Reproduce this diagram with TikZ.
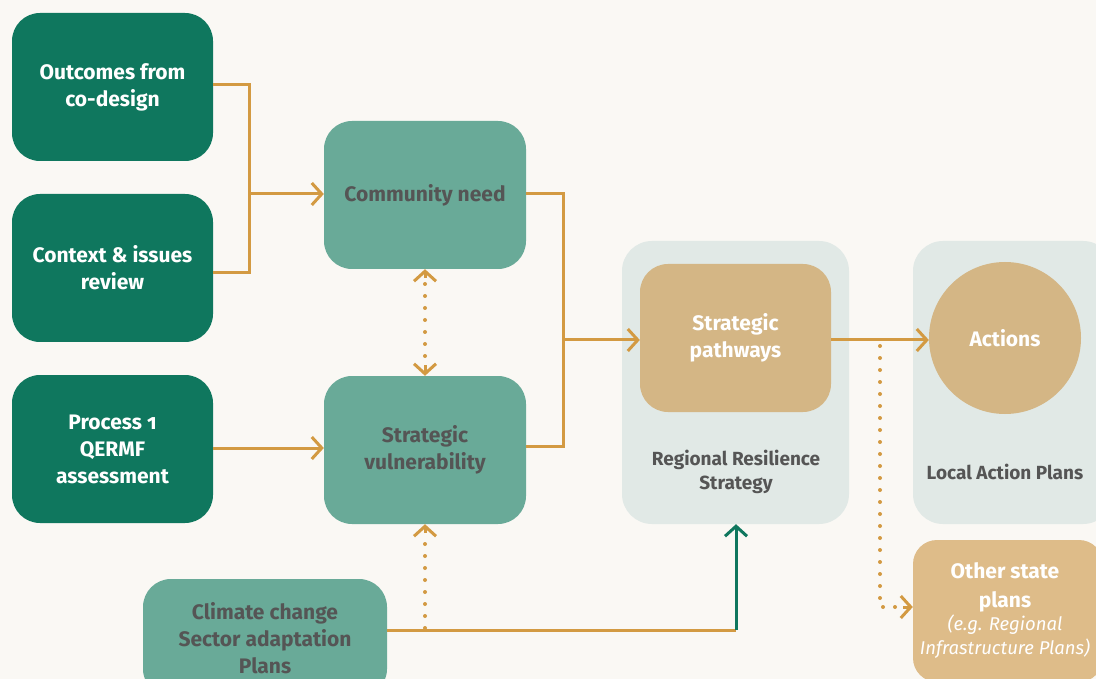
\documentclass[tikz,border=0pt]{standalone}
\usepackage{fontspec}
\setmainfont{Fira Sans}
\usetikzlibrary{arrows.meta,shapes.geometric}
\definecolor{bgc}{HTML}{FAF8F4}
\definecolor{dkgreen}{HTML}{0F775E}
\definecolor{mdgreen}{HTML}{69AA98}
\definecolor{panelc}{HTML}{E1E9E6}
\definecolor{goldc}{HTML}{D4B685}
\definecolor{otherc}{HTML}{DEBC89}
\definecolor{linec}{HTML}{D39A42}
\definecolor{txtgray}{HTML}{555555}
\tikzset{
  chev/.tip={Straight Barb[length=10pt,width=22pt]},
  conn/.style={draw=linec, line width=3pt},
  dotline/.style={draw=linec, line width=4pt, line cap=round, dash pattern=on 0pt off 12pt},
  dottip/.style={draw=linec, line width=3pt},
  box/.style={rounded corners=28pt, align=center, font=\fontsize{21}{27}\selectfont\bfseries, inner sep=0pt},
  darkbox/.style={box, fill=dkgreen, text=white, minimum width=201pt, minimum height=148pt},
  midbox/.style={box, fill=mdgreen, text=txtgray, minimum width=202pt, minimum height=148pt},
  panel/.style={fill=panelc, rounded corners=30pt, inner sep=0pt},
  paneltext/.style={align=center, text=txtgray, font=\fontsize{19}{24}\selectfont\bfseries},
}
\begin{document}
\begin{tikzpicture}[x=1pt,y=-1pt]
\useasboundingbox (0,0) rectangle (1096,679);
\clip (0,0) rectangle (1096,679);
\fill[bgc] (0,0) rectangle (1096,679);

% panels
\node[panel, minimum width=227pt, minimum height=283pt] (rrs) at (735.5,382.5) {};
\node[panel, minimum width=200pt, minimum height=283pt] (lap) at (1013,382.5) {};
\node[paneltext] (rrstext) at (736,472) {Regional Resilience\\Strategy};
\node[paneltext] (laptext) at (1005,472) {Local Action Plans};

% left column
\node[darkbox] (outc) at (112.5,87) {Outcomes from\\co-design};
\node[darkbox] (ctx) at (112.5,268) {Context \& issues\\review};
\node[darkbox] (proc) at (112.5,449) {Process {\addfontfeature{Numbers=OldStyle}1}\\QERMF\\assessment};

% middle column
\node[midbox] (comm) at (425,195) {Community need};
\node[midbox] (vuln) at (425,450) {Strategic\\vulnerability};
\node[midbox, minimum width=244pt, minimum height=118pt] (clim) at (265,638) {Climate change\\Sector adaptation\\Plans};

% right
\node[box, fill=goldc, text=white, minimum width=191pt, minimum height=148pt] (path) at (735.5,338) {Strategic\\pathways};
\node[circle, fill=goldc, text=white, minimum size=152pt, inner sep=0pt, font=\fontsize{21}{27}\selectfont\bfseries] (act) at (1005,338) {Actions};
\node[box, fill=otherc, text=white, minimum width=190pt, minimum height=142pt, rounded corners=24pt] (other) at (1008,611) {};
\node[align=center, text=white, font=\fontsize{21}{29}\selectfont\bfseries] (othert) at (1005,587) {Other state\\plans};
\node[align=center, text=white, font=\fontsize{18.5}{24}\selectfont\itshape] (otheri) at (1005,637) {(e.g. Regional\\Infrastructure Plans)};

% coordinates
\coordinate (j1) at (249,194);
\coordinate (j2) at (563,340);
\coordinate (g1) at (736,630);
\coordinate (d1) at (880,340);
\coordinate (d2) at (880,607);
\coordinate (t1) at (425,278);
\coordinate (t2) at (425,365);
\coordinate (t3) at (425,533);
\coordinate (t4) at (903,607);

% connectors
\draw[conn] (outc.east |- 0,85) -| (j1) |- (ctx.east |- 0,273);
\draw[conn, -{chev}] (j1) -- (comm.west |- j1);
\draw[conn] (comm.east |- 0,194) -| (j2) |- (vuln.east |- 0,446);
\draw[conn, -{chev}] (j2) -- (path.west |- j2);
\draw[conn, -{chev}] (proc.east |- 0,448) -- (vuln.west |- 0,448);
\draw[conn, -{chev}] (path.east |- 0,340) -- (act.west |- 0,340);
\draw[conn] (clim.east |- g1) -- (g1);
\draw[draw=dkgreen, line width=3pt, -{chev}] (g1) -- (rrs.south -| g1);

% dotted
\draw[dotline] (425,284) -- (425,362);
\draw[dottip, -{chev}] (t1) -- (comm.south);
\draw[dottip, -{chev}] (t2) -- (vuln.north);
\draw[dotline] (425,628) -- (425,538);
\draw[dottip, -{chev}] (t3) -- (vuln.south);
\draw[dotline] (880,346) -- (d2) -- (896,607);
\draw[dottip, -{chev}] (t4) -- (other.west |- d2);
\end{tikzpicture}
\end{document}
